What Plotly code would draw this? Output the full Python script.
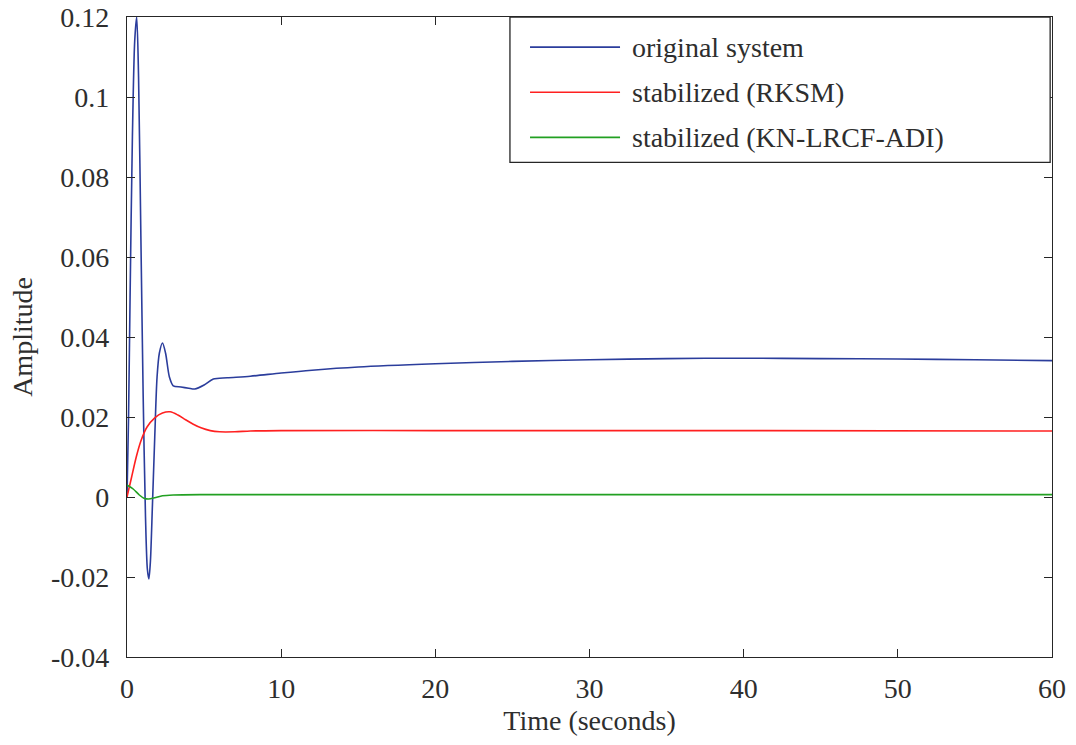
import plotly.graph_objects as go

# Data
t_orig = [0, 0.1, 0.2, 0.35, 0.5, 0.63, 0.75, 0.9, 1.05, 1.2, 1.32, 1.42, 1.52, 1.65, 1.8, 1.95,
          2.1, 2.3, 2.5, 2.75, 3.0, 3.5, 4.0, 4.4, 5.0, 5.6, 6.5, 8, 10, 12, 15, 20, 25, 30, 35,
          40, 45, 50, 55, 60]
y_orig = [0.0, 0.02, 0.05, 0.09, 0.114, 0.12, 0.105, 0.065, 0.025, -0.005, -0.018, -0.0205,
          -0.016, -0.002, 0.015, 0.03, 0.036, 0.0385, 0.036, 0.030, 0.0278, 0.0275, 0.0272,
          0.027, 0.028, 0.0295, 0.0298, 0.0302, 0.031, 0.0317, 0.0325, 0.0333, 0.0339, 0.0343,
          0.0346, 0.0347, 0.0346, 0.0345, 0.0343, 0.0341]

t_rksm = [0, 0.3, 0.6, 0.9, 1.3, 1.8, 2.3, 2.8, 3.3, 3.8, 4.3, 4.8, 5.4, 6.0, 7, 8, 10, 20, 40, 60]
y_rksm = [0, 0.005, 0.010, 0.014, 0.0175, 0.0198, 0.021, 0.0213, 0.0205, 0.0193, 0.0182,
          0.0173, 0.0166, 0.0163, 0.0163, 0.0165, 0.0166, 0.0166, 0.0166, 0.0165]

t_adi = [0, 0.4, 0.8, 1.1, 1.4, 1.8, 2.3, 3, 5, 10, 60]
y_adi = [0.003, 0.002, 0.0005, -0.0003, -0.0005, -0.0002, 0.0003, 0.0005, 0.0006, 0.0006, 0.0006]

names = ["original system", "stabilized (RKSM)", "stabilized (KN-LRCF-ADI)"]
colors = ["#2B3D9C", "#FF2020", "#22A022"]

x_ticks = [0, 10, 20, 30, 40, 50, 60]
y_ticks = [-0.04, -0.02, 0, 0.02, 0.04, 0.06, 0.08, 0.1, 0.12]
y_ticktext = ["-0.04", "-0.02", "0", "0.02", "0.04", "0.06", "0.08", "0.1", "0.12"]

FONT = "Liberation Serif, Times New Roman, serif"
FS = 28
TXT = "#2e2e2e"

fig = go.Figure()
for tx, ty, nm, c in zip([t_orig, t_rksm, t_adi], [y_orig, y_rksm, y_adi], names, colors):
    fig.add_trace(go.Scatter(x=tx, y=ty, mode="lines", name=nm, showlegend=False,
                             line=dict(color=c, width=1.6, shape="spline", smoothing=0.8)))

axis_common = dict(showgrid=False, zeroline=False, showline=True, linecolor="#262626",
                   linewidth=1.3, mirror="ticks", ticks="inside", ticklen=8, tickwidth=1.3,
                   tickcolor="#262626", automargin=False,
                   tickfont=dict(family=FONT, size=FS, color=TXT))

fig.update_xaxes(range=[0, 60], tickvals=x_ticks, ticklabelstandoff=6,
                 title=dict(text="Time (seconds)", font=dict(family=FONT, size=FS, color=TXT),
                            standoff=7),
                 **axis_common)
fig.update_yaxes(range=[-0.04, 0.12], tickvals=y_ticks, ticktext=y_ticktext,
                 ticklabelstandoff=11,
                 title=dict(text="Amplitude", font=dict(family=FONT, size=FS, color=TXT),
                            standoff=10),
                 **axis_common)

# Manual legend (box, line samples, labels)
lx0, lx1, ly0, ly1 = 0.414, 0.998, 0.773, 1.0
fig.add_shape(type="rect", xref="paper", yref="paper", x0=lx0, x1=lx1, y0=ly0, y1=ly1,
              line=dict(color="#262626", width=1.3), fillcolor="white", layer="above")
rows = [0.953, 0.8824, 0.8119]
for nm, c, ry in zip(names, colors, rows):
    fig.add_shape(type="line", xref="paper", yref="paper", x0=0.4357, x1=0.533, y0=ry, y1=ry,
                  line=dict(color=c, width=1.6), layer="above")
    fig.add_annotation(xref="paper", yref="paper", x=0.5438, y=ry, text=nm, showarrow=False,
                       xanchor="left", yanchor="middle",
                       font=dict(family=FONT, size=FS, color=TXT))

fig.update_layout(width=1076, height=745, plot_bgcolor="white", paper_bgcolor="white",
                  margin=dict(l=127, r=24, t=17, b=88),
                  font=dict(family=FONT, size=FS, color=TXT))

fig.write_html("out.html")
